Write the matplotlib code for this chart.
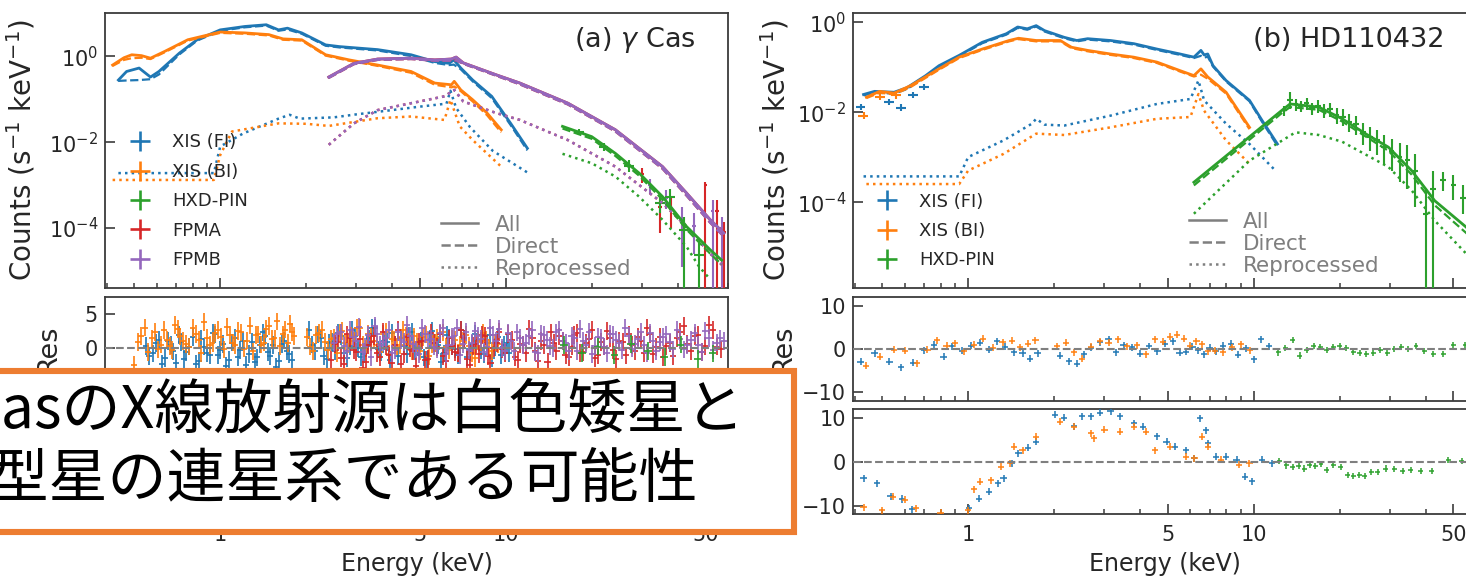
import numpy as np
import matplotlib
matplotlib.use("Agg")
import matplotlib.pyplot as plt
from matplotlib.lines import Line2D
from matplotlib.patches import Rectangle
from matplotlib.ticker import FixedLocator, FixedFormatter, NullFormatter, NullLocator

plt.rcParams['font.family'] = ['DejaVu Sans']
plt.rcParams['mathtext.fontset'] = 'dejavusans'

# ---------------- colours ----------------
C_FI, C_BI, C_PIN, C_FPMA, C_FPMB = '#1f77b4', '#ff7f0e', '#2ca02c', '#d62728', '#9467bd'
GRAY = '#7f7f7f'
BOX = '#ED7D31'

# ---------------- axis definitions ----------------
x_major = [1, 5, 10, 50]
x_major_labels = ['1', '5', '10', '50']
x_minor = [0.4, 0.5, 0.6, 0.7, 0.8, 0.9, 2, 3, 4, 6, 7, 8, 9, 20, 30, 40, 60]
y_main_ticks = [1e-4, 1e-2, 1.0]
a_res_ticks = [-5, 0, 5]
b_res_ticks = [-10, 0, 10]

inst_labels_a = ['XIS (FI)', 'XIS (BI)', 'HXD-PIN', 'FPMA', 'FPMB']
inst_labels_b = ['XIS (FI)', 'XIS (BI)', 'HXD-PIN']
comp_labels = ['All', 'Direct', 'Reprocessed']
title_a = r'(a) $\gamma$ Cas'
title_b = '(b) HD110432'
banner_line1 = 'γ CasのX線放射源は白色矮星と'
banner_line2 = 'Be型星の連星系である可能性'

# ================= panel (a) gamma Cas : models (log10 counts) =================
a_fi_E = [0.44, 0.47, 0.52, 0.57, 0.61, 0.72, 0.83, 1.0, 1.22, 1.45, 1.60, 1.72, 1.93, 2.34, 2.62,
          3.56, 4.66, 5.64, 6.33, 6.58, 6.96, 7.66, 8.93, 10.4, 11.9]
a_fi_all = [-0.55, -0.35, -0.27, -0.48, -0.35, 0.08, 0.39, 0.62, 0.70, 0.74, 0.62, 0.66, 0.55, 0.27, 0.23,
            0.16, 0.04, -0.12, -0.16, -0.08, -0.27, -0.55, -0.93, -1.56, -2.14]
a_fi_dir = [-0.57, -0.56, -0.55, -0.53, -0.42, 0.05, 0.37, 0.60, 0.68, 0.72, 0.60, 0.63, 0.53, 0.25, 0.21,
            0.14, 0.01, -0.15, -0.20, -0.19, -0.30, -0.58, -0.97, -1.60, -2.19]
a_fi_rep_E = [0.44, 0.95, 1.0, 1.2, 1.6, 1.75, 1.9, 2.5, 3.0, 4.0, 5.0, 6.2, 6.4, 6.7, 7.5, 9.0, 12.0]
a_fi_rep = [-2.72, -2.72, -2.1, -1.8, -1.45, -1.36, -1.45, -1.42, -1.35, -1.25, -1.17, -1.1, -0.8, -1.2,
            -1.65, -2.2, -2.72]

a_bi_E = [0.42, 0.46, 0.49, 0.53, 0.57, 0.64, 0.77, 1.0, 1.22, 1.48, 1.66, 1.93, 2.34, 2.83, 3.56, 4.66,
          5.64, 6.45, 6.6, 6.96, 7.66, 8.6, 9.64]
a_bi_all = [-0.20, -0.03, 0.04, 0.02, -0.04, 0.12, 0.39, 0.57, 0.55, 0.51, 0.41, 0.39, 0.04, -0.08, -0.20,
            -0.35, -0.62, -0.66, -0.58, -0.78, -1.01, -1.32, -1.71]
a_bi_dir = [-0.22, -0.08, -0.04, -0.03, -0.06, 0.10, 0.37, 0.55, 0.53, 0.49, 0.39, 0.37, 0.02, -0.10, -0.22,
            -0.38, -0.66, -0.72, -0.70, -0.81, -1.05, -1.37, -1.77]
a_bi_rep_E = [0.42, 0.95, 1.0, 1.1, 1.6, 2.0, 2.4, 3.56, 4.66, 6.1, 6.4, 6.9, 7.66, 9.64]
a_bi_rep = [-2.88, -2.88, -2.3, -1.75, -1.56, -1.57, -1.62, -1.44, -1.40, -1.48, -1.01, -1.63, -1.95, -2.57]

a_nu_E = [2.4, 2.94, 3.56, 4.66, 5.64, 6.45, 6.7, 7.1, 9.27, 11.2, 16.5, 24.2, 35.4, 43.0, 52.0, 58.0]
a_nu_all = [-0.48, -0.16, -0.06, -0.04, -0.08, -0.06, -0.015, -0.15, -0.43, -0.62, -1.09, -1.71, -2.57,
            -3.19, -3.81, -4.12]
a_nu_dir = [-0.50, -0.18, -0.08, -0.06, -0.10, -0.10, -0.09, -0.17, -0.45, -0.65, -1.12, -1.75, -2.62,
            -3.25, -3.88, -4.20]
a_nu_rep_E = [2.4, 2.94, 3.56, 4.66, 6.1, 6.6, 7.1, 9.27, 11.2, 16.5, 24.2, 35.4, 43.0, 52.0, 58.0]
a_nu_rep = [-2.06, -1.56, -1.25, -1.09, -0.93, -0.78, -1.05, -1.32, -1.48, -1.95, -2.57, -3.42, -3.97,
            -4.6, -4.9]

a_pin_E = [15.8, 20.0, 24.2, 29.3, 35.4, 43.0, 52.0, 57.0]
a_pin_all = [-1.63, -1.87, -2.26, -2.72, -3.27, -3.97, -4.51, -4.75]
a_pin_dir = [-1.68, -1.92, -2.32, -2.78, -3.34, -4.04, -4.60, -4.85]
a_pin_rep_E = [15.8, 20.0, 24.2, 29.3, 35.4, 43.0, 47.5, 52.0]
a_pin_rep = [-2.27, -2.49, -2.80, -3.27, -3.81, -4.44, -4.90, -5.20]

# panel (a) high-energy data points (log10 value, upper, lower)
a_fpma_pE = [30.0, 34.6, 38.0, 50.0, 55.0, 58.0]
a_fpma_plog = [-2.75, -3.50, -3.55, -3.00, -3.60, -4.10]
a_fpma_pup = [-2.60, -3.35, -3.30, -2.92, -3.35, -3.85]
a_fpma_pdn = [-2.95, -4.12, -4.00, -9.0, -9.0, -9.0]
a_fpmb_pE = [32.0, 36.5, 41.5, 45.5, 53.0, 57.0]
a_fpmb_plog = [-3.00, -3.30, -3.80, -3.95, -3.60, -4.00]
a_fpmb_pup = [-2.85, -3.12, -3.50, -3.66, -3.35, -3.75]
a_fpmb_pdn = [-3.20, -3.55, -4.90, -4.60, -9.0, -9.0]
a_pin_pE = [18.0, 22.0, 27.0, 34.6, 37.6, 42.0, 47.5]
a_pin_plog = [-1.75, -2.10, -2.55, -3.42, -3.27, -4.05, -4.63]
a_pin_pup = [-1.68, -2.02, -2.42, -3.25, -3.10, -3.75, -4.30]
a_pin_pdn = [-1.83, -2.20, -2.70, -3.65, -3.50, -9.0, -9.0]

# panel (a) residuals (two interleaved groups per instrument)
a_r_fi_E = [0.55, 0.58, 0.61, 0.64, 0.67, 0.70, 0.73, 0.76, 0.80, 0.84, 0.88, 0.92, 0.96, 1.00, 1.05,
            1.10, 1.15, 1.20, 1.26, 1.32, 1.38, 1.44, 1.50, 1.57, 1.64, 1.71, 1.78, 2.05, 2.15, 2.25,
            2.36, 2.47, 2.59, 2.71, 2.84, 2.97, 3.11, 3.26, 3.41, 3.57, 3.74, 3.92, 4.10, 4.30, 4.50,
            4.71, 4.93, 5.16, 5.41, 5.66, 5.93, 6.21, 6.50, 6.81, 7.13, 7.47, 7.82, 8.19, 8.58, 8.98,
            9.41, 9.85, 10.3]
a_r_fi = [0.3, -0.8, 1.2, -1.5, 0.4, -2.2, 0.9, -0.6, 1.6, -1.9, 0.2, -1.1, 2.0, -0.3, -2.6,
          0.8, -1.4, 1.1, -0.9, -2.1, 0.5, 1.7, -1.2, -2.8, 0.6, -0.4, -1.8, 2.6, -0.5, 1.4,
          -1.6, 0.9, 2.2, -0.8, 0.3, 1.8, -1.3, 0.6, 2.9, -0.2, 1.0, -1.7, 0.4, 1.5, -0.9,
          2.4, 0.1, -1.4, 1.2, 0.7, -2.0, 1.9, 0.2, -1.1, 1.3, -0.6, 2.1, -0.3, 0.8, -1.5,
          1.6, 0.4, -0.7]
a_r_fi2_E = [0.565, 0.595, 0.625, 0.655, 0.685, 0.715, 0.745, 0.78, 0.82, 0.86, 0.90, 0.94, 0.98, 1.025,
             1.075, 1.125, 1.175, 1.23, 1.29, 1.35, 1.41, 1.47, 1.535, 1.605, 1.675, 1.745, 2.10, 2.20,
             2.30, 2.41, 2.53, 2.65, 2.77, 2.90, 3.04, 3.18, 3.33, 3.49, 3.65, 3.83, 4.01, 4.20, 4.40,
             4.60, 4.82, 5.04, 5.28, 5.53, 5.79, 6.07, 6.35, 6.65, 6.97, 7.30, 7.64, 8.00, 8.38, 8.78,
             9.19, 9.63, 10.07]
a_r_fi2 = [-1.2, 0.7, -2.4, 1.0, -0.5, 1.9, -1.6, 0.2, -2.3, 1.3, -0.7, 2.2, -1.0, 0.6, -1.8,
           1.5, -0.3, -2.5, 0.9, -1.4, 2.3, -0.6, 0.4, -1.9, 1.1, -0.9, 0.5, 2.0, -1.2, 0.8,
           -0.4, 1.7, -1.5, 2.6, 0.0, -0.9, 1.4, 3.0, -0.6, 0.9, 2.2, -1.2, 0.3, 1.8, -0.5,
           1.0, -1.7, 2.5, 0.4, -0.8, 1.5, -0.2, 2.7, -1.3, 0.6, 1.2, -0.9, 1.9, 0.1, -1.0,
           0.7]
a_r_bi_E = [0.50, 0.53, 0.56, 0.59, 0.62, 0.65, 0.68, 0.71, 0.74, 0.78, 0.82, 0.86, 0.90, 0.94, 0.98,
            1.03, 1.08, 1.13, 1.18, 1.24, 1.30, 1.36, 1.42, 1.48, 1.55, 1.62, 1.69, 1.76, 1.82, 2.02,
            2.12, 2.22, 2.33, 2.44, 2.56, 2.68, 2.81, 2.94, 3.08, 3.23, 3.38, 3.54, 3.71, 3.89, 4.07,
            4.27, 4.47, 4.68, 4.90, 5.13, 5.38, 5.63, 5.90, 6.18, 6.47, 6.78, 7.10, 7.44, 7.79, 8.16,
            8.55, 8.95, 9.40]
a_r_bi = [-2.5, 1.8, -0.6, 2.4, 0.5, 1.2, -0.3, 2.8, 1.0, 0.2, 2.1, -0.8, 1.5, 0.7, 2.6,
          -0.2, 1.9, 0.4, 2.3, 1.1, -0.5, 2.0, 0.8, 3.2, 1.4, 0.3, 2.7, 3.6, 1.8, 1.6,
          -0.4, 2.2, 0.9, 1.3, -0.7, 2.5, 0.6, 1.0, 2.9, -0.1, 1.7, 0.5, 2.1, -0.9, 1.2,
          0.4, 1.8, -0.5, 0.9, 1.6, -1.2, 0.7, 2.0, 0.1, 1.4, -0.8, 1.1, 0.3, -1.5, 0.9,
          1.2, -0.4, 0.6]
a_r_bi2_E = [0.515, 0.545, 0.575, 0.605, 0.635, 0.665, 0.695, 0.725, 0.76, 0.80, 0.84, 0.88, 0.92, 0.96,
             1.005, 1.055, 1.105, 1.155, 1.21, 1.27, 1.33, 1.39, 1.45, 1.515, 1.585, 1.655, 1.725, 1.79,
             2.07, 2.17, 2.27, 2.38, 2.50, 2.62, 2.74, 2.87, 3.01, 3.15, 3.30, 3.46, 3.62, 3.80, 3.98,
             4.17, 4.37, 4.57, 4.79, 5.01, 5.25, 5.50, 5.76, 6.04, 6.32, 6.62, 6.94, 7.27, 7.61, 7.97,
             8.35, 8.75, 9.17]
a_r_bi2 = [0.9, 3.0, 1.4, -0.2, 2.6, 0.3, 3.4, 1.7, 0.6, 2.9, 1.2, 3.8, 0.4, 2.2, 1.6,
           3.1, 0.8, 2.5, -0.1, 3.3, 1.9, 0.5, 2.8, 1.3, 3.9, 2.0, 0.7, 2.4, 0.2, 1.9,
           2.7, -0.3, 1.5, 2.3, 0.8, 1.8, 3.0, 0.5, 2.1, 1.1, -0.6, 2.4, 1.3, 0.2, 2.6,
           0.9, 1.7, -0.4, 2.0, 0.6, 1.5, 2.3, -0.3, 1.2, 0.5, 1.9, -0.7, 1.0, 2.2, 0.0,
           0.8]
a_r_fpma_E = [2.45, 2.58, 2.71, 2.85, 3.0, 3.15, 3.3, 3.46, 3.63, 3.81, 4.0, 4.2, 4.4, 4.62, 4.85,
              5.09, 5.34, 5.6, 5.88, 6.17, 6.47, 6.79, 7.12, 7.47, 7.84, 8.23, 8.63, 9.06, 9.5, 9.97,
              10.5, 11.0, 11.5, 12.1, 12.7, 13.3, 14.0, 14.7, 15.4, 16.2, 17.0, 17.8, 18.7, 19.6, 20.6,
              21.6, 22.7, 23.8, 25.0, 26.3, 27.6, 29.0, 30.5, 32.0, 33.7, 35.5, 37.5, 39.7, 42.0, 44.5,
              47.2, 50.0, 53.0, 56.5]
a_r_fpma = [-1.8, 0.9, -2.4, 1.5, -0.6, -2.9, 0.4, 1.8, -1.3, 0.2, -2.2, 2.6, -0.9, -0.1, -2.7,
            1.1, -1.6, 0.7, 2.1, -1.9, 0.3, -0.8, 1.4, -2.5, 0.6, 1.9, -1.2, 0.0, 2.4, -0.7,
            1.2, -1.8, 0.5, 2.8, -0.4, 1.0, -2.1, 0.8, 1.7, -1.0, 0.2, 2.2, -0.6, 1.3, -1.5,
            0.9, 2.5, -0.3, 1.1, -1.1, 0.4, 1.6, -0.8, 2.0, 0.1, -1.4, 0.7, 1.5, 3.2, -0.5,
            1.9, 0.3, 2.6, -0.2]
a_r_fpma2_E = [2.52, 2.65, 2.78, 2.93, 3.08, 3.23, 3.38, 3.55, 3.72, 3.9, 4.1, 4.3, 4.51, 4.73, 4.97,
               5.21, 5.47, 5.74, 6.02, 6.32, 6.63, 6.95, 7.3, 7.65, 8.03, 8.43, 8.84, 9.28, 9.73, 10.2,
               10.75, 11.25, 11.8, 12.4, 13.0, 13.65, 14.35, 15.05, 15.8, 16.6, 17.4, 18.25, 19.15, 20.1,
               21.1, 22.15, 23.25, 24.4, 25.65, 26.95, 28.3, 29.75, 31.25, 32.85, 34.6, 36.5, 38.6,
               40.85, 43.25, 45.85, 48.6, 51.5, 54.75]
a_r_fpma2 = [0.6, -1.5, 2.0, -0.3, 1.3, -2.0, 0.9, -0.7, 2.4, -1.1, 0.5, -2.3, 1.6, -0.4, 0.9,
             -1.8, 2.2, 0.1, -1.2, 1.4, -0.6, 2.7, -1.6, 0.3, -0.9, 1.8, -2.2, 0.7, -0.2, 2.1,
             -1.4, 0.6, -0.8, 1.5, -1.9, 0.4, 2.3, -0.5, 1.0, -1.3, 1.9, -0.7, 0.8, 2.6, -1.0,
             0.2, 1.4, -1.6, 0.9, 2.0, -0.4, 1.1, 3.0, -0.9, 1.6, 0.3, -1.2, 2.4, 0.6, 1.8,
             -0.6, 3.4, 0.2]
a_r_fpmb_E = [2.5, 2.64, 2.78, 2.92, 3.07, 3.22, 3.38, 3.55, 3.72, 3.9, 4.1, 4.3, 4.51, 4.73, 4.96,
              5.2, 5.46, 5.73, 6.01, 6.3, 6.61, 6.93, 7.27, 7.63, 8.0, 8.4, 8.8, 9.25, 9.7, 10.2,
              10.7, 11.2, 11.8, 12.4, 13.0, 13.6, 14.3, 15.0, 15.8, 16.6, 17.4, 18.2, 19.1, 20.1, 21.1,
              22.1, 23.2, 24.4, 25.6, 26.9, 28.3, 29.7, 31.2, 32.8, 34.6, 36.5, 38.6, 40.8, 43.2, 45.8,
              48.6, 51.5, 54.7, 58.0]
a_r_fpmb = [0.8, 2.3, -0.5, 1.6, 3.1, 0.2, -1.4, 2.0, 0.9, 2.7, -0.3, 1.2, 3.4, 0.6, -0.9,
            2.1, 1.3, -0.2, 2.9, 0.4, 1.7, -1.1, 2.4, 0.7, 1.8, -0.6, 3.0, 1.1, 0.0, 2.2,
            -0.4, 1.5, 0.8, 2.6, -0.8, 1.9, 0.3, 2.3, 1.0, -0.5, 1.4, 2.8, 0.5, -0.9, 1.6,
            0.2, 2.1, 1.2, -0.3, 1.8, 0.6, 2.4, -0.7, 1.1, 0.9, 2.0, -0.2, 1.3, 0.4, 2.2,
            -0.6, 1.5, 0.8, 1.0]
a_r_fpmb2_E = [2.57, 2.71, 2.85, 3.0, 3.15, 3.3, 3.47, 3.64, 3.81, 4.0, 4.2, 4.41, 4.62, 4.85, 5.08,
               5.33, 5.6, 5.87, 6.16, 6.46, 6.77, 7.1, 7.45, 7.82, 8.2, 8.6, 9.03, 9.47, 9.95, 10.45,
               10.95, 11.5, 12.1, 12.7, 13.3, 13.95, 14.65, 15.4, 16.2, 17.0, 17.8, 18.65, 19.6, 20.6,
               21.6, 22.65, 23.8, 25.0, 26.25, 27.6, 29.0, 30.45, 32.0, 33.7, 35.55, 37.55, 39.7, 42.0,
               44.5, 47.2, 50.0, 53.1, 56.3]
a_r_fpmb2 = [2.0, 0.3, 2.7, 1.1, -0.6, 1.9, 3.3, 0.4, 1.5, -0.8, 2.4, 0.9, 1.8, -0.2, 2.9,
             1.2, 0.2, 2.2, -0.9, 1.6, 3.0, 0.6, -0.3, 2.5, 1.3, 0.1, 1.9, 2.8, -0.5, 1.0,
             2.3, 0.4, 1.7, -0.6, 2.1, 1.2, 0.0, 2.6, 0.7, 1.8, -0.4, 1.1, 2.4, 0.3, 1.5,
             -0.8, 2.0, 0.8, 2.9, -0.1, 1.3, 0.5, 2.2, -0.5, 1.6, 0.9, 2.7, -0.2, 1.2, 0.4,
             2.5, -0.3, 1.4]
a_r_pin_E = [16.0, 18.5, 21.0, 24.0, 27.5, 31.5, 36.0, 41.0, 47.0, 53.0]
a_r_pin = [0.4, -0.7, 0.2, -1.0, 0.6, -0.4, -1.3, 0.5, -1.6, -0.8]
a_res_err = 1.3

# ================= panel (b) HD110432 =================
b_fi_E = [0.43, 0.47, 0.55, 0.61, 0.71, 0.79, 0.93, 1.12, 1.36, 1.49, 1.61, 1.73, 1.85, 2.17, 2.40,
          2.62, 3.15, 3.80, 4.58, 5.52, 6.17, 6.53, 6.70, 6.90, 7.20, 8.00, 9.66, 10.7, 12.1]
b_fi_all = [-1.60, -1.53, -1.55, -1.45, -1.18, -0.96, -0.73, -0.44, -0.25, -0.10, -0.14, -0.07, -0.18,
            -0.33, -0.40, -0.36, -0.40, -0.47, -0.59, -0.70, -0.77, -0.62, -0.72, -0.70, -0.96, -1.29,
            -1.73, -2.18, -2.70]
b_fi_dir = [-1.62, -1.56, -1.58, -1.48, -1.20, -0.98, -0.75, -0.46, -0.27, -0.12, -0.16, -0.09, -0.20,
            -0.35, -0.42, -0.38, -0.42, -0.49, -0.61, -0.72, -0.79, -0.74, -0.78, -0.76, -0.98, -1.31,
            -1.75, -2.21, -2.74]
b_fi_rep_E = [0.43, 0.93, 1.0, 1.33, 1.67, 1.73, 1.85, 2.17, 3.15, 4.58, 6.0, 6.4, 6.7, 8.0, 9.66, 11.9]
b_fi_rep = [-3.42, -3.42, -2.99, -2.62, -2.25, -2.14, -2.27, -2.29, -2.07, -1.81, -1.70, -1.29, -1.73,
            -2.25, -2.70, -3.29]

b_bi_E = [0.44, 0.49, 0.55, 0.63, 0.79, 0.93, 1.12, 1.39, 1.50, 1.73, 2.10, 2.30, 2.62, 3.15, 3.80,
          4.58, 5.52, 6.17, 6.53, 6.90, 8.00, 9.66]
b_bi_all = [-1.66, -1.53, -1.57, -1.40, -1.03, -0.77, -0.59, -0.40, -0.35, -0.40, -0.40, -0.55, -0.62,
            -0.70, -0.77, -0.88, -1.07, -1.18, -1.03, -1.21, -1.55, -2.33]
b_bi_dir = [-1.68, -1.56, -1.60, -1.43, -1.05, -0.79, -0.61, -0.42, -0.37, -0.42, -0.42, -0.57, -0.64,
            -0.72, -0.79, -0.90, -1.09, -1.20, -1.16, -1.25, -1.58, -2.37]
b_bi_rep_E = [0.44, 0.93, 1.0, 1.33, 1.73, 2.17, 3.15, 4.58, 6.0, 6.4, 6.7, 8.0, 9.66]
b_bi_rep = [-3.59, -3.59, -3.29, -2.92, -2.47, -2.50, -2.33, -2.14, -2.10, -1.59, -1.96, -2.62, -3.14]

b_pin_E = [6.17, 12.5, 13.4, 16.9, 20.4, 24.6, 29.6, 35.7, 43.0, 55.5, 62.0]
b_pin_all = [-3.55, -1.96, -1.81, -1.88, -2.14, -2.47, -2.77, -3.29, -3.96, -4.55, -4.90]
b_pin_dir = [-3.62, -2.02, -1.88, -1.94, -2.20, -2.53, -2.85, -3.38, -4.06, -4.68, -5.00]
b_pin_rep_E = [6.17, 9.66, 14.0, 16.9, 20.4, 29.6, 35.7, 43.0, 55.5, 62.0]
b_pin_rep = [-4.25, -3.07, -2.44, -2.50, -2.65, -3.21, -3.73, -4.40, -5.14, -5.50]

# panel (b) data points
b_fi_pE = [0.42, 0.53, 0.58, 0.64, 0.70]
b_fi_plog = [-1.88, -1.76, -1.89, -1.61, -1.44]
b_bi_pE = [0.43, 0.49, 0.56]
b_bi_plog = [-2.07, -1.66, -1.62]
b_xis_perr = 0.07
b_pin_pE = [12.8, 13.4, 14.0, 14.6, 15.3, 16.0, 16.8, 17.6, 18.5, 19.5, 20.5, 21.6, 22.8, 24.1, 25.5,
            27.0, 28.6, 30.4, 32.4, 34.5, 36.8, 40.0, 42.5, 46.0, 50.0, 54.0]
b_pin_plog = [-1.95, -1.72, -1.82, -1.86, -1.80, -1.91, -1.86, -1.96, -1.93, -2.06, -2.10, -2.21, -2.26,
              -2.44, -2.55, -2.62, -2.76, -2.86, -3.00, -3.06, -3.30, -4.25, -3.70, -3.50, -3.62, -3.90]
b_pin_pup = [-1.85, -1.55, -1.70, -1.74, -1.68, -1.78, -1.72, -1.82, -1.78, -1.90, -1.93, -2.03, -2.07,
             -2.24, -2.33, -2.38, -2.50, -2.58, -2.68, -2.72, -2.92, -3.70, -3.30, -3.33, -3.40, -3.62]
b_pin_pdn = [-2.07, -1.92, -1.96, -2.00, -1.94, -2.06, -2.02, -2.13, -2.11, -2.26, -2.31, -2.44, -2.50,
             -2.72, -2.85, -2.95, -3.15, -3.30, -3.55, -3.70, -4.10, -9.0, -9.0, -3.75, -3.95, -4.25]

# panel (b) residuals, row 1
b_r1_fi_E = [0.42, 0.47, 0.53, 0.58, 0.64, 0.70, 0.76, 0.82, 0.88, 0.95, 1.02, 1.10, 1.18, 1.26, 1.35,
             1.45, 1.55, 1.65, 1.75, 2.10, 2.25, 2.40, 2.55, 2.70, 2.90, 3.10, 3.30, 3.50, 3.75, 4.00,
             4.30, 4.60, 4.90, 5.20, 5.50, 5.80, 6.10, 6.40, 6.70, 7.00, 7.40, 7.80, 8.30, 8.80, 9.40,
             10.0, 10.6, 11.3]
b_r1_fi = [-2.9, -1.0, -2.9, -4.2, -3.2, -0.3, 1.0, -1.8, 0.6, -0.4, 0.8, 1.5, -0.2, 1.8, 0.5,
           -0.8, -1.0, -2.2, -1.0, -1.6, -2.8, -3.4, -1.2, 0.3, 1.6, 2.2, -0.8, 0.9, 0.4, -1.1,
           0.7, -0.5, 1.2, 1.8, -0.9, -0.6, 0.5, -0.3, -1.2, 0.3, -0.5, 0.8, 1.2, -1.3, 0.2,
           -2.4, 2.2, 0.6]
b_r1_bi_E = [0.44, 0.49, 0.55, 0.60, 0.66, 0.72, 0.78, 0.84, 0.90, 0.97, 1.05, 1.13, 1.22, 1.32, 1.42,
             1.52, 1.62, 1.72, 2.05, 2.20, 2.35, 2.50, 2.70, 2.90, 3.10, 3.35, 3.60, 3.90, 4.20, 4.50,
             4.80, 5.10, 5.40, 5.70, 6.00, 6.30, 6.60, 6.90, 7.30, 7.80, 8.40, 9.00, 9.70]
b_r1_bi = [-3.9, -1.8, -0.2, -0.4, -3.3, -0.2, 2.0, 0.8, 1.3, -0.5, 1.0, 2.4, 0.3, 1.6, 1.9,
           0.4, 1.2, 2.0, 0.6, 1.4, -0.8, -2.2, 0.5, 1.8, 1.4, 2.3, 0.6, 0.9, -1.2, 2.2,
           1.7, 2.8, 3.3, 2.4, 0.8, 1.8, 1.1, -0.5, -0.4, -0.8, 0.4, 1.1, -0.3]
b_r1_pin_E = [12.2, 12.9, 13.7, 14.5, 15.3, 16.2, 17.1, 18.0, 19.0, 20.0, 21.1, 22.3, 23.5, 24.8, 26.2,
              27.7, 29.3, 31.0, 32.8, 34.8, 37.0, 39.5, 42.5, 46.0, 50.0, 55.0]
b_r1_pin = [-0.8, 0.3, 2.0, -1.5, -0.2, 0.6, 0.4, -0.3, 0.5, 0.8, 0.2, -0.6, -0.9, -1.1, -1.0,
            -0.2, -0.9, 0.0, 0.4, -0.1, 0.8, -0.4, -1.2, -1.2, 0.9, 0.9]

# panel (b) residuals, row 2
b_r2_fi_E = [0.43, 0.48, 0.535, 0.587, 0.637, 1.01, 1.09, 1.18, 1.27, 1.33, 1.42, 1.50, 1.62, 1.73, 2.01,
             2.17, 2.35, 2.50, 2.70, 2.90, 3.15, 3.40, 3.80, 4.10, 4.58, 4.95, 5.30, 5.80, 6.17, 6.50,
             6.80, 6.90, 7.40, 8.00, 8.70, 9.30, 9.85, 10.7, 11.6]
b_r2_fi = [-3.7, -4.8, -7.8, -8.4, -10.7, -10.5, -8.3, -6.7, -4.8, -3.7, -0.3, 2.0, 3.2, 4.6, 10.7,
           10.0, 8.1, 10.4, 10.4, 11.2, 11.5, 10.4, 8.8, 8.0, 5.8, 4.6, 3.5, 2.7, 0.8, 9.9,
           7.2, 4.2, 1.2, 1.2, 0.5, -3.3, -4.4, 0.5, -0.3]
b_r2_bi_E = [0.43, 0.50, 0.545, 0.60, 0.655, 0.80, 1.0, 1.05, 1.10, 1.20, 1.30, 1.40, 1.45, 1.55, 1.73,
             2.10, 2.35, 2.70, 2.75, 3.00, 3.40, 3.80, 4.20, 4.50, 5.10, 5.80, 6.20, 6.60, 6.90, 7.70,
             8.90, 9.66]
b_r2_bi = [-10.3, -11.0, -7.9, -8.6, -10.5, -11.5, -11.0, -6.2, -4.5, -4.1, -1.1, -0.3, 3.5, 2.7, 5.7,
           9.1, 8.0, 6.5, 5.4, 7.3, 6.9, 8.0, 6.9, 2.7, 3.5, 1.2, 0.8, 5.7, 3.5, 0.5,
           -0.6, -0.3]
b_r2_pin_E = [12.3, 13.0, 13.7, 14.4, 15.0, 15.7, 16.4, 17.2, 18.0, 19.0, 20.2, 21.3, 22.3, 23.4, 24.5,
              25.8, 27.2, 29.0, 31.0, 33.2, 35.5, 38.5, 42.0, 48.0, 53.5]
b_r2_pin = [0.2, -0.8, -1.2, -0.9, -1.5, -0.7, -1.0, -0.5, -1.8, -0.6, -1.2, -2.9, -3.1, -3.0, -3.1,
            -2.2, -2.3, -1.5, -1.6, -2.0, -1.8, -2.1, -2.0, 0.4, 0.3]
b_res_err_xis = 0.8
b_res_err_pin = 0.7

# ================= figure layout =================
FW, FH = 1466, 580
fig = plt.figure(figsize=(FW / 100, FH / 100), dpi=100)
LEFT = {'a': 105, 'b': 853}
AXW = 623
ROWS = [(13, 288), (297, 401), (409, 514)]
axs = {}
for p in 'ab':
    for i, (t, b) in enumerate(ROWS):
        axs[(p, i)] = fig.add_axes([LEFT[p] / FW, 1 - b / FH, AXW / FW, (b - t) / FH])

SPINE = '#3c3c3c'


def style(ax, xlabels):
    for s in ax.spines.values():
        s.set_color(SPINE)
        s.set_linewidth(1.3)
    ax.set_xscale('log')
    ax.set_xlim(0.395, 60)
    ax.xaxis.set_major_locator(FixedLocator(x_major))
    ax.xaxis.set_minor_locator(FixedLocator(x_minor))
    ax.xaxis.set_minor_formatter(NullFormatter())
    if xlabels:
        ax.xaxis.set_major_formatter(FixedFormatter(x_major_labels))
    else:
        ax.xaxis.set_major_formatter(NullFormatter())
    ax.tick_params(axis='both', which='both', direction='in', color=SPINE, labelcolor='#262626',
                   labelsize=15, top=False, right=False)
    ax.tick_params(axis='both', which='major', length=7, width=1.2)
    ax.tick_params(axis='x', which='minor', length=3.8, width=1.1)
    ax.tick_params(axis='x', which='major', pad=8)
    ax.tick_params(axis='y', which='major', pad=5)


def logline(ax, E, lg, color, ls, lw=1.8, z=3):
    ax.plot(E, np.power(10.0, np.asarray(lg)), color=color, ls=ls, lw=lw, zorder=z)


def logpts(ax, E, lg, up, dn, color, xfrac=0.03, z=4):
    E = np.asarray(E, float)
    y = np.power(10.0, np.asarray(lg))
    yu = np.power(10.0, np.asarray(up))
    yd = np.power(10.0, np.asarray(dn))
    ax.errorbar(E, y, yerr=[y - yd, yu - y], xerr=E * xfrac, fmt='none', ecolor=color,
                elinewidth=1.5, capsize=0, zorder=z)


def respts(ax, E, r, color, err, xfrac, lw=1.1, z=3):
    E = np.asarray(E, float)
    ax.errorbar(E, r, yerr=err, xerr=E * xfrac, fmt='none', ecolor=color, elinewidth=lw,
                capsize=0, zorder=z)


def model_set(ax, E, all_, dir_, repE, rep, color, z):
    logline(ax, repE, rep, color, ':', lw=1.8, z=z)
    logline(ax, E, dir_, color, '--', lw=1.6, z=z)
    logline(ax, E, all_, color, '-', lw=2.0, z=z + 0.5)


# ---------- main panels ----------
for p, lx in [('a', -0.108), ('b', -0.098)]:
    ax = axs[(p, 0)]
    style(ax, False)
    ax.set_yscale('log')
    ax.yaxis.set_major_locator(FixedLocator(y_main_ticks))
    ax.yaxis.set_minor_locator(NullLocator())
    ax.set_ylabel(r'Counts (s$^{-1}$ keV$^{-1}$)', fontsize=20, color='#262626')
    ax.yaxis.set_label_coords(lx, 0.5)

axa = axs[('a', 0)]
axa.set_ylim(10 ** -5.40, 10 ** 1.014)
model_set(axa, a_fi_E, a_fi_all, a_fi_dir, a_fi_rep_E, a_fi_rep, C_FI, 3)
model_set(axa, a_bi_E, a_bi_all, a_bi_dir, a_bi_rep_E, a_bi_rep, C_BI, 4)
model_set(axa, a_nu_E, a_nu_all, a_nu_dir, a_nu_rep_E, a_nu_rep, C_FPMA, 5)
model_set(axa, a_nu_E, a_nu_all, a_nu_dir, a_nu_rep_E, a_nu_rep, C_FPMB, 6)
model_set(axa, a_pin_E, a_pin_all, a_pin_dir, a_pin_rep_E, a_pin_rep, C_PIN, 7)
logpts(axa, a_fpma_pE, a_fpma_plog, a_fpma_pup, a_fpma_pdn, C_FPMA, 0.015)
logpts(axa, a_fpmb_pE, a_fpmb_plog, a_fpmb_pup, a_fpmb_pdn, C_FPMB, 0.015)
logpts(axa, a_pin_pE, a_pin_plog, a_pin_pup, a_pin_pdn, C_PIN, 0.04)
axa.text(0.948, 0.902, title_a, transform=axa.transAxes, ha='right', va='center', fontsize=19.5,
         color='#262626')

axb = axs[('b', 0)]
axb.set_ylim(10 ** -5.9, 10 ** 0.211)
model_set(axb, b_fi_E, b_fi_all, b_fi_dir, b_fi_rep_E, b_fi_rep, C_FI, 3)
model_set(axb, b_bi_E, b_bi_all, b_bi_dir, b_bi_rep_E, b_bi_rep, C_BI, 4)
model_set(axb, b_pin_E, b_pin_all, b_pin_dir, b_pin_rep_E, b_pin_rep, C_PIN, 5)
for E, lg, c in [(b_fi_pE, b_fi_plog, C_FI), (b_bi_pE, b_bi_plog, C_BI)]:
    lg = np.asarray(lg)
    logpts(axb, E, lg, lg + b_xis_perr, lg - b_xis_perr, c, 0.04)
logpts(axb, b_pin_pE, b_pin_plog, b_pin_pup, b_pin_pdn, C_PIN, 0.022)
axb.text(0.950, 0.902, title_b, transform=axb.transAxes, ha='right', va='center', fontsize=19.5,
         color='#262626')

# legends
def inst_handles(colors):
    return [Line2D([], [], ls='none', marker='+', ms=14, mew=1.9, color=c) for c in colors]


comp_handles = [Line2D([], [], color=GRAY, ls='-', lw=1.8),
                Line2D([], [], color=GRAY, ls='--', lw=1.8),
                Line2D([], [], color=GRAY, ls=':', lw=1.8)]

for ax, cols, labs, anc1, anc2 in [
        (axa, [C_FI, C_BI, C_PIN, C_FPMA, C_FPMB], inst_labels_a, (0.0385, 0.562), (0.539, 0.267)),
        (axb, [C_FI, C_BI, C_PIN], inst_labels_b, (0.037, 0.347), (0.539, 0.278))]:
    l1 = ax.legend(inst_handles(cols), labs, loc='upper left', bbox_to_anchor=anc1, frameon=False,
                   fontsize=13, handlelength=1.2, handletextpad=1.2, labelspacing=0.63,
                   borderpad=0, borderaxespad=0)
    for t in l1.get_texts():
        t.set_color('#262626')
    ax.add_artist(l1)
    l2 = ax.legend(comp_handles, comp_labels, loc='upper left', bbox_to_anchor=anc2, frameon=False,
                   fontsize=15.5, handlelength=1.75, handletextpad=0.75, labelspacing=0.1,
                   borderpad=0, borderaxespad=0, labelcolor=GRAY)

# ---------- residual panels ----------
for p, lim, ticks in [('a', (-7.8, 7.5), a_res_ticks), ('b', (-12, 12), b_res_ticks)]:
    for i in (1, 2):
        ax = axs[(p, i)]
        style(ax, i == 2)
        ax.set_ylim(*lim)
        ax.yaxis.set_major_locator(FixedLocator(ticks))
        ax.yaxis.set_minor_locator(NullLocator())
        ax.axhline(0, color=GRAY, ls='--', lw=1.5, zorder=6)
        ax.set_ylabel('Res', fontsize=19.5, color='#262626')
        if i == 2:
            ax.set_xlabel('Energy (keV)', fontsize=17, color='#262626', labelpad=5)
axs[('b', 2)].set_ylim(-11.8, 12)

ar = axs[('a', 1)]
for E, r, c, xf in [(a_r_fi_E, a_r_fi, C_FI, 0.024), (a_r_fi2_E, a_r_fi2, C_FI, 0.024),
                    (a_r_bi_E, a_r_bi, C_BI, 0.024), (a_r_bi2_E, a_r_bi2, C_BI, 0.024),
                    (a_r_fpma_E, a_r_fpma, C_FPMA, 0.025), (a_r_fpma2_E, a_r_fpma2, C_FPMA, 0.025),
                    (a_r_fpmb_E, a_r_fpmb, C_FPMB, 0.025), (a_r_fpmb2_E, a_r_fpmb2, C_FPMB, 0.025),
                    (a_r_pin_E, a_r_pin, C_PIN, 0.03)]:
    respts(ar, E, r, c, a_res_err, xf, lw=1.2)

br1 = axs[('b', 1)]
respts(br1, b_r1_fi_E, b_r1_fi, C_FI, b_res_err_xis, 0.025)
respts(br1, b_r1_bi_E, b_r1_bi, C_BI, b_res_err_xis, 0.025)
respts(br1, b_r1_pin_E, b_r1_pin, C_PIN, b_res_err_pin, 0.02)
br2 = axs[('b', 2)]
respts(br2, b_r2_fi_E, b_r2_fi, C_FI, b_res_err_xis, 0.025)
respts(br2, b_r2_bi_E, b_r2_bi, C_BI, b_res_err_xis, 0.025)
respts(br2, b_r2_pin_E, b_r2_pin, C_PIN, b_res_err_pin, 0.02)

# ---------- overlay banner ----------
rect = Rectangle((-20 / FW, 1 - 532 / FH), 814 / FW, 161 / FH, transform=fig.transFigure,
                 facecolor='white', edgecolor=BOX, lw=4.4, zorder=100)
fig.add_artist(rect)
jp = ['Noto Sans CJK JP', 'DejaVu Sans']
fig.text(-82 / FW, 1 - 411 / FH, banner_line1, fontsize=42.5, family=jp, ha='left', va='center',
         color='black', zorder=101)
fig.text(-82 / FW, 1 - 480 / FH, banner_line2, fontsize=42.5, family=jp, ha='left', va='center',
         color='black', zorder=101)

fig.savefig('out.png', dpi=100)
